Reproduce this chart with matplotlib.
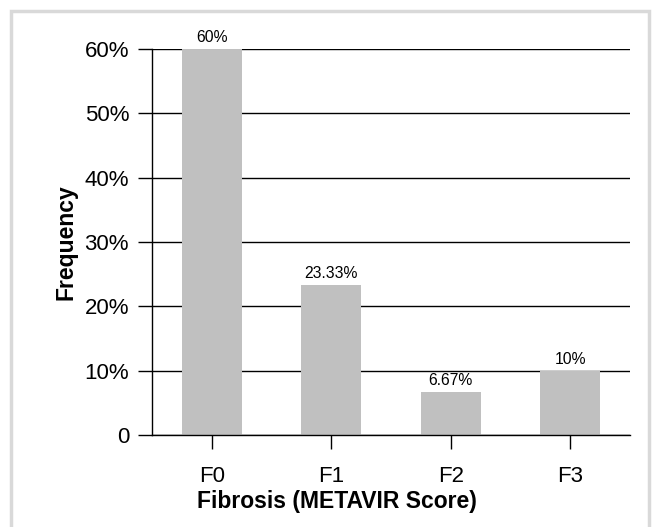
import matplotlib
matplotlib.use("Agg")
import matplotlib.pyplot as plt
from matplotlib.patches import Rectangle

categories = ["F0", "F1", "F2", "F3"]
values = [60, 23.33, 6.67, 10]
value_labels = ["60%", "23.33%", "6.67%", "10%"]
y_ticks = [0, 10, 20, 30, 40, 50, 60]
y_tick_labels = ["0", "10%", "20%", "30%", "40%", "50%", "60%"]

plt.rcParams['font.family'] = ['Liberation Sans', 'DejaVu Sans']

fig = plt.figure(figsize=(6.52, 5.27), dpi=100)
ax = fig.add_axes([152/652, 1-435/527, (630-152)/652, (435-49)/527])

# figure border
fig.patches.append(Rectangle((11/652, -0.1), (649-11)/652, 1.1 - 11/527,
                             transform=fig.transFigure, fill=False,
                             edgecolor='#d9d9d9', linewidth=2.5, zorder=0))

x = range(len(categories))
ax.bar(x, values, width=0.5, color='#c0c0c0', zorder=3)
for xi, v, lab in zip(x, values, value_labels):
    ax.annotate(lab, (xi, v), xytext=(0, 3), textcoords='offset points',
                ha='center', va='bottom', fontsize=11.3)

ax.set_xlim(-0.5, 3.5)
ax.set_ylim(0, 60)
ax.set_yticks(y_ticks)
ax.set_yticklabels(y_tick_labels, fontsize=16)
ax.set_xticks(list(x))
ax.set_xticklabels(categories, fontsize=16)
ax.tick_params(axis='y', length=10, width=1, pad=6.5, color='black')
ax.tick_params(axis='x', length=10, width=1, pad=12, color='black')
ax.yaxis.grid(True, color='black', linewidth=1, zorder=1)
ax.set_axisbelow(True)
for s in ['top', 'right']:
    ax.spines[s].set_visible(False)
ax.spines['left'].set_linewidth(1)
ax.spines['bottom'].set_linewidth(1)
ax.spines['bottom'].set_zorder(4)

ax.set_ylabel("Frequency", fontsize=16.5, fontweight='bold', labelpad=5)
ax.set_xlabel("Fibrosis (METAVIR Score)", fontsize=16.5, fontweight='bold', labelpad=3)
ax.xaxis.set_label_coords((337 - 152) / 478, -0.143)

fig.savefig("out.png", dpi=100)
